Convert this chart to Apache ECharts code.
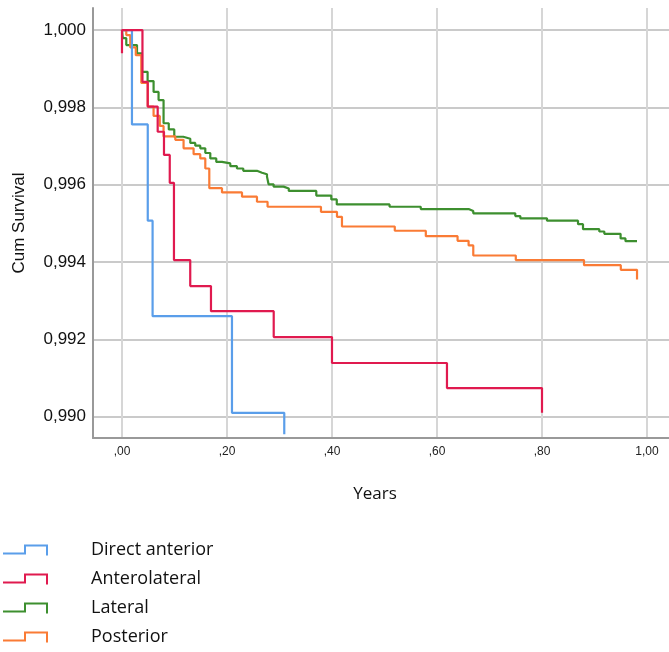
<!DOCTYPE html>
<html>
<head>
<meta charset="utf-8">
<script src="https://cdn.jsdelivr.net/npm/echarts@6/dist/echarts.min.js"></script>
<style>html,body{margin:0;padding:0;background:#fff}#c{width:669px;height:652px}</style>
</head>
<body>
<div id="c"></div>
<script>
// ---- data (time in years, cumulative survival) ----
const seriesNames = ['Direct anterior', 'Anterolateral', 'Lateral', 'Posterior'];

const timesDA = [0.019, 0.0491, 0.0583, 0.2095, 0.3091];
const survDA  = [0.99756, 0.99507, 0.99260, 0.99010, 0.98955];
const endDA = 0.3091;

const startAL = 0.99940;
const timesAL = [0.039, 0.049, 0.068, 0.080, 0.091, 0.099, 0.130, 0.1695, 0.289, 0.400, 0.619, 0.800];
const survAL  = [0.99866, 0.99802, 0.99737, 0.99677, 0.99605, 0.99405, 0.99338, 0.99273, 0.99206, 0.99139, 0.99074, 0.99010];
const endAL = 0.800;

const timesL = [0.0015, 0.0082, 0.0286, 0.0381, 0.0488, 0.0602, 0.0697, 0.0792, 0.0891, 0.0996, 0.1168, 0.1301, 0.1396, 0.1491, 0.1587, 0.1682, 0.1796, 0.1905, 0.2063, 0.2190, 0.2310, 0.2571, 0.2667, 0.2762, 0.2792, 0.2888, 0.3078, 0.3177, 0.3701, 0.3987, 0.4091, 0.5097, 0.5691, 0.6602, 0.6691, 0.7491, 0.7587, 0.8095, 0.8686, 0.8781, 0.9091, 0.9187, 0.9497, 0.9590];
const survL  = [0.99979, 0.99961, 0.99940, 0.99892, 0.99868, 0.99840, 0.99819, 0.99759, 0.99743, 0.99724, 0.99719, 0.99708, 0.99701, 0.99694, 0.99682, 0.99668, 0.99659, 0.99655, 0.99648, 0.99642, 0.99636, 0.99631, 0.99627, 0.99621, 0.99601, 0.99595, 0.99590, 0.99584, 0.99572, 0.99562, 0.99549, 0.99543, 0.99537, 0.99532, 0.99526, 0.99519, 0.99513, 0.99507, 0.99498, 0.99485, 0.99479, 0.99473, 0.99461, 0.99454];
const endL = 0.981;

const timesP = [0.0082, 0.0158, 0.0263, 0.0368, 0.0491, 0.0602, 0.0720, 0.0792, 0.1015, 0.1173, 0.1364, 0.1491, 0.1587, 0.1663, 0.1905, 0.2286, 0.2571, 0.2773, 0.3790, 0.4095, 0.4190, 0.5196, 0.5787, 0.6392, 0.6602, 0.6691, 0.7501, 0.8800, 0.9501, 0.9810];
const survP  = [0.99987, 0.99955, 0.99935, 0.99863, 0.99802, 0.99778, 0.99752, 0.99725, 0.99716, 0.99694, 0.99679, 0.99668, 0.99642, 0.99591, 0.99580, 0.99569, 0.99556, 0.99543, 0.99530, 0.99517, 0.99492, 0.99481, 0.99467, 0.99455, 0.99443, 0.99417, 0.99405, 0.99392, 0.99380, 0.99355];
const endP = 0.9810;

const yTickValues = [0.990, 0.992, 0.994, 0.996, 0.998, 1.000];
const yTickLabels = ['0,990', '0,992', '0,994', '0,996', '0,998', '1,000'];
const xTickValues = [0, 0.2, 0.4, 0.6, 0.8, 1.0];
const xTickLabels = [',00', ',20', ',40', ',60', ',80', '1,00'];

const colors = ['#5a9eea', '#e01a4f', '#3d8f2f', '#fa7b35'];

// ---- build step paths ----
function steps(times, surv, end, start) {
  const pts = [];
  if (start != null) pts.push([0, start]);
  pts.push([0, 1]);
  let prev = 1;
  times.forEach((t, i) => { pts.push([t, prev]); pts.push([t, surv[i]]); prev = surv[i]; });
  if (end > times[times.length - 1]) pts.push([end, prev]);
  return pts;
}
function labelFor(values, labels, v) {
  for (let i = 0; i < values.length; i++) if (Math.abs(values[i] - v) < 1e-9) return labels[i];
  return '';
}

const iconPath = 'path://M0,8 L21,8 L21,0 L45,0 L45,11 L43,11 L43,2 L23,2 L23,10 L0,10 Z';

const data = [
  steps(timesDA, survDA, endDA),
  steps(timesAL, survAL, endAL, startAL),
  steps(timesL, survL, endL),
  steps(timesP, survP, endP)
];
const zOrder = [3, 4, 1, 2];

const chart = echarts.init(document.getElementById('c'), null, {renderer: 'canvas'});
chart.setOption({
  animation: false,
  color: colors,
  grid: {left: 93, right: 0, top: 8, bottom: 214, containLabel: false, outerBoundsMode: 'none'},
  xAxis: {
    type: 'value',
    min: -0.0552, max: 1.0419,
    name: 'Years',
    nameLocation: 'middle',
    nameGap: 48,
    nameTextStyle: {fontFamily: 'Open Sans', fontSize: 17, color: '#111', padding: [0, 12, 0, 0]},
    axisLine: {onZero: false, lineStyle: {color: '#999', width: 2}},
    axisTick: {show: false, customValues: xTickValues},
    axisLabel: {
      customValues: xTickValues,
      margin: 8,
      fontFamily: 'Liberation Sans', fontSize: 12, color: '#222',
      formatter: v => labelFor(xTickValues, xTickLabels, v)
    },
    splitLine: {show: true, lineStyle: {color: '#d6d6d6', width: 2}}
  },
  yAxis: {
    type: 'value',
    min: 0.98945, max: 1.00057,
    name: 'Cum Survival',
    nameLocation: 'middle',
    nameRotate: 90,
    nameGap: 65,
    nameTextStyle: {fontFamily: 'Liberation Sans', fontSize: 17, color: '#111'},
    axisLine: {onZero: false, lineStyle: {color: '#999', width: 2}},
    axisTick: {show: false, customValues: yTickValues},
    axisLabel: {
      customValues: yTickValues,
      margin: 7,
      fontFamily: 'Liberation Sans', fontSize: 17, color: '#111',
      formatter: v => labelFor(yTickValues, yTickLabels, v)
    },
    splitLine: {show: true, lineStyle: {color: '#b8b8b8', width: 1.5}}
  },
  legend: {
    orient: 'vertical',
    left: 3, top: 541,
    height: 160,
    padding: 0,
    itemWidth: 45, itemHeight: 11,
    itemGap: 11,
    icon: iconPath,
    data: seriesNames,
    textStyle: {fontFamily: 'Open Sans', fontSize: 18, color: '#111', padding: [0, 0, 0, 38]}
  },
  series: seriesNames.map((n, i) => ({
    name: n,
    type: 'line',
    data: data[i],
    showSymbol: false,
    z: zOrder[i],
    lineStyle: {width: 2.2, color: colors[i]},
    itemStyle: {color: colors[i]}
  }))
});
</script>
</body>
</html>
